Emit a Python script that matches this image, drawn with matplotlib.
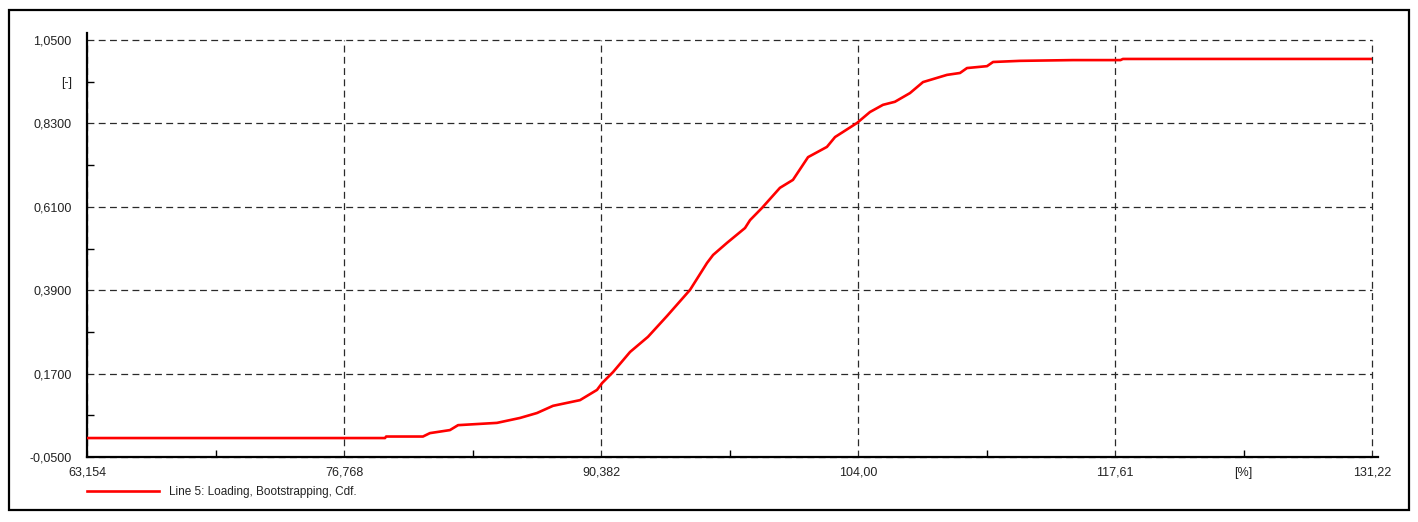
"""Bootstrapped CDF of line loading, redrawn with matplotlib"""

import matplotlib
matplotlib.use('Agg')
import matplotlib.pyplot as plt
from matplotlib.patches import Rectangle
from matplotlib.ticker import FixedLocator, FixedFormatter

plt.rcParams['font.family'] = ['Liberation Sans', 'DejaVu Sans']

# loading [%] vs cumulative probability [-]
loading = [63.154, 78.94, 79.00, 80.95, 81.32, 82.38, 82.81, 84.87, 86.09, 86.99,
           87.84, 89.27, 90.17, 90.44, 91.02, 91.92, 92.87, 93.88, 95.10, 96.00,
           96.32, 97.06, 98.01, 98.28, 98.91, 99.86, 100.55, 101.35, 102.35, 102.78,
           103.94, 104.63, 105.32, 105.95, 106.75, 107.44, 108.71, 109.40, 109.77, 110.83,
           111.15, 112.58, 115.38, 117.90, 118.03, 131.22]
cdf = [0.0, 0.0, 0.004, 0.004, 0.013, 0.021, 0.034, 0.040, 0.053, 0.066,
       0.085, 0.100, 0.127, 0.145, 0.174, 0.227, 0.267, 0.322, 0.391, 0.462,
       0.483, 0.515, 0.554, 0.575, 0.607, 0.660, 0.681, 0.741, 0.768, 0.794,
       0.831, 0.860, 0.879, 0.887, 0.910, 0.939, 0.958, 0.963, 0.976, 0.981,
       0.992, 0.995, 0.997, 0.997, 1.0, 1.0]

x_ticks = [63.154, 76.768, 90.382, 103.996, 117.61, 131.224]
x_tick_labels = ['63,154', '76,768', '90,382', '104,00', '117,61', '131,22']
y_ticks = [-0.05, 0.17, 0.39, 0.61, 0.83, 1.05]
y_tick_labels = ['-0,0500', '0,1700', '0,3900', '0,6100', '0,8300', '1,0500']
x_unit = '[%]'
y_unit = '[-]'
legend_label = 'Line 5: Loading, Bootstrapping, Cdf.'

W, H = 1418, 522
fig = plt.figure(figsize=(W / 100, H / 100), dpi=100)
ax = fig.add_axes([87 / W, (H - 457) / H, (1372 - 87) / W, (457 - 40) / H])

ax.plot(loading, cdf, color='#ff0000', lw=1.9, label=legend_label, zorder=3)

ax.set_xlim(x_ticks[0], x_ticks[-1])
ax.set_ylim(y_ticks[0], y_ticks[-1])

ax.xaxis.set_major_locator(FixedLocator(x_ticks))
ax.xaxis.set_major_formatter(FixedFormatter(x_tick_labels))
ax.yaxis.set_major_locator(FixedLocator(y_ticks))
ax.yaxis.set_major_formatter(FixedFormatter(y_tick_labels))

# minor ticks halfway between the majors; the last one carries the unit
x_mid = [(a + b) / 2 for a, b in zip(x_ticks[:-1], x_ticks[1:])]
y_mid = [(a + b) / 2 for a, b in zip(y_ticks[:-1], y_ticks[1:])]
ax.xaxis.set_minor_locator(FixedLocator(x_mid))
ax.xaxis.set_minor_formatter(FixedFormatter([''] * (len(x_mid) - 1) + [x_unit]))
ax.yaxis.set_minor_locator(FixedLocator(y_mid))
ax.yaxis.set_minor_formatter(FixedFormatter([''] * (len(y_mid) - 1) + [y_unit]))

txt = '#222222'
ax.tick_params(axis='both', which='both', labelsize=9, labelcolor=txt)
ax.tick_params(axis='both', which='major', length=0)
ax.tick_params(axis='both', which='minor', direction='in', length=5, width=1, color='black')
ax.tick_params(axis='y', which='both', pad=11)
ax.tick_params(axis='x', which='both', pad=7)

ax.grid(True, which='major', color='#2a2a2a', lw=0.9, linestyle=(0, (5.5, 3.5)))
for gl in ax.get_xgridlines() + ax.get_ygridlines():
    gl.set_clip_on(False)
for s in ['top', 'right']:
    ax.spines[s].set_visible(False)
for s in ['left', 'bottom']:
    ax.spines[s].set_linewidth(1.6)
    ax.spines[s].set_color('black')
ax.spines['left'].set_bounds(y_ticks[0], y_ticks[-1] + 0.018)
ax.spines['bottom'].set_bounds(x_ticks[0], x_ticks[-1] + 0.3)

leg = ax.legend(loc='center left', bbox_to_anchor=(0, -0.084), frameon=False,
                borderaxespad=0, borderpad=0, handlelength=6.1, handletextpad=0.85,
                fontsize=8.5)
for t in leg.get_texts():
    t.set_color(txt)

# outer frame
fig.patches.append(Rectangle((9 / W, (H - 510) / H), 1400 / W, 500 / H,
                             transform=fig.transFigure, fill=False,
                             edgecolor='black', lw=1.6))

fig.savefig('out.png', dpi=100)
